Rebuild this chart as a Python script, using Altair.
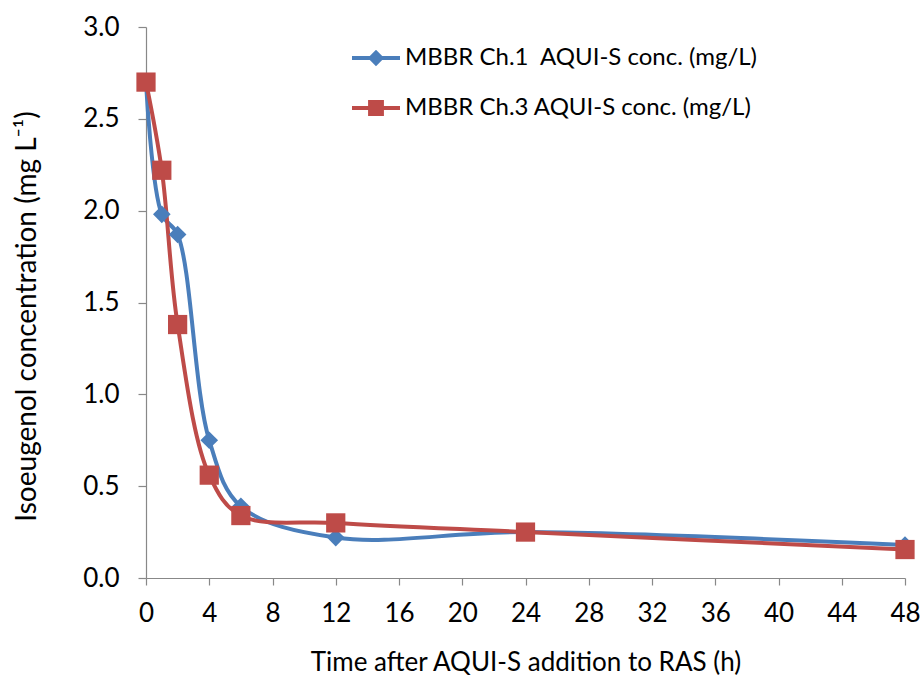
import altair as alt
import pandas as pd

hours = [0, 1, 2, 4, 6, 12, 24, 48]
ch1 = [2.70, 1.98, 1.87, 0.75, 0.39, 0.22, 0.25, 0.18]
ch3 = [2.70, 2.22, 1.38, 0.56, 0.34, 0.30, 0.25, 0.155]
series = ["MBBR Ch.1\u00a0 AQUI-S conc. (mg/L)", "MBBR Ch.3 AQUI-S conc. (mg/L)"]
colors = ["#4A7EBB", "#BE4B48"]
shapes = ["diamond", "square"]
marker_sizes = [310, 370]
legend_paths = [
    "M-1,-0.085L1,-0.085L1,0.085L-1,0.085Z M0,-0.34L0.34,0L0,0.34L-0.34,0Z",
    "M-1,-0.085L1,-0.085L1,0.085L-1,0.085Z M-0.33,-0.33L0.33,-0.33L0.33,0.33L-0.33,0.33Z",
]
x_ticks = list(range(0, 49, 4))
y_ticks = [0, 0.5, 1.0, 1.5, 2.0, 2.5, 3.0]

rows = []
for s, vals in zip(series, [ch1, ch3]):
    for h, v in zip(hours, vals):
        rows.append({"hour": h, "conc": v, "series": s})
df = pd.DataFrame(rows)

FONT = "Lato"
FS = 26
x = alt.X("hour:Q", scale=alt.Scale(domain=[0, 48], nice=False),
          axis=alt.Axis(values=x_ticks, title="Time after AQUI-S addition to RAS (h)",
                        grid=False, tickSize=7, labelPadding=15, labelFlush=False,
                        titleY=84, titleBaseline="middle"))
y = alt.Y("conc:Q", scale=alt.Scale(domain=[0, 3], nice=False),
          axis=alt.Axis(values=y_ticks, format=".1f",
                        title="Isoeugenol concentration (mg L\u207b\u00b9)",
                        grid=False, tickSize=8, labelPadding=19, labelFlush=False,
                        titleX=-119, titleY=289, titleBaseline="middle",
                        titleFontSize=28))
color_scale = alt.Scale(domain=series, range=colors)

base = alt.Chart(df)
lines = base.mark_line(interpolate="catmull-rom", strokeWidth=4).encode(
    x=x, y=y, color=alt.Color("series:N", scale=color_scale, legend=None),
    detail="series:N")
points = base.mark_point(filled=True, opacity=1).encode(
    x=x, y=y,
    color=alt.Color("series:N", scale=color_scale, legend=None),
    shape=alt.Shape("series:N", scale=alt.Scale(domain=series, range=shapes), legend=None),
    size=alt.Size("series:N", scale=alt.Scale(domain=series, range=marker_sizes), legend=None))
leg = alt.Legend(title=None, orient="none", legendX=206, legendY=7,
                 symbolSize=2304, symbolStrokeWidth=0, labelFont=FONT,
                 labelFontSize=24, labelColor="#000", labelOffset=5,
                 labelLimit=0, rowPadding=14, padding=0)
legend_layer = base.transform_filter("false").mark_point(filled=True, size=2304, opacity=1).encode(
    x=x, y=y,
    color=alt.Color("series:N", scale=color_scale, legend=leg),
    shape=alt.Shape("series:N", scale=alt.Scale(domain=series, range=legend_paths), legend=leg))

chart = alt.layer(lines, points, legend_layer).resolve_scale(
    color="independent", shape="independent", size="independent"
).properties(
    width=759, height=551,
    autosize=alt.AutoSizeParams(type="none"),
    padding={"left": 146, "top": 27, "right": 15, "bottom": 99},
).configure_view(stroke=None).configure_axis(
    labelFont=FONT, titleFont=FONT, labelFontSize=FS, titleFontSize=FS,
    titleFontWeight="normal", labelColor="#000", titleColor="#000",
    domainColor="#888", tickColor="#888", domainWidth=1.2, tickWidth=1.2,
)

chart.save("out.html", embed_options={"renderer": "svg", "actions": False})
